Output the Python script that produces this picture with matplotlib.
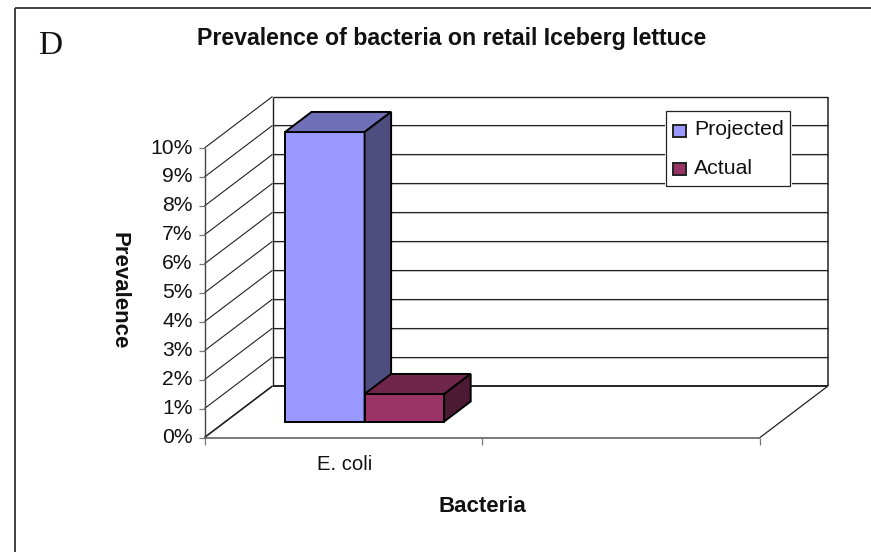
import numpy as np
import matplotlib
matplotlib.use('Agg')
import matplotlib.pyplot as plt
from matplotlib.patches import Polygon, Rectangle

plt.rcParams['font.family'] = ['Liberation Sans', 'DejaVu Sans']

# data
categories = ['E. coli', '', '']
series_names = ['Projected', 'Actual']
series_values = [10.0, 0.95]
tick_values = np.arange(0, 11)
tick_labels = ['%d%%' % v for v in tick_values]
series_colors = ['#9999ff', '#993366']
top_colors = ['#7070b8', '#70264b']
side_colors = ['#4d4d80', '#4d1a33']

W, H = 871, 552
fig = plt.figure(figsize=(W / 100, H / 100), dpi=100)
ax = fig.add_axes([0, 0, 1, 1])
ax.set_xlim(0, W)
ax.set_ylim(H, 0)
ax.axis('off')

# oblique projection of the 3d box
x0, y0 = 204.5, 437.5
unit_y = 28.95
cat_w = 277.75
dx, dy = 68.0, -51.5


def proj(cat, val, depth=0.0):
    return (x0 + cat * cat_w + depth * dx, y0 - val * unit_y + depth * dy)


def poly(pts, fc, lw=1.4):
    ax.add_patch(Polygon(pts, closed=True, fc=fc, ec='black', lw=lw, joinstyle='miter', zorder=3))


def line(a, b, color='#222222', lw=0.8):
    ax.plot([a[0], b[0]], [a[1], b[1]], color=color, lw=lw, solid_capstyle='butt', zorder=2)


# outer frame, only top and left are visible
ax.plot([15, 15], [552, 8], color='#333333', lw=1.3, solid_capstyle='butt')
ax.plot([15, 871], [8, 8], color='#333333', lw=1.3, solid_capstyle='butt')

n = len(categories)
top = tick_values[-1]

# walls
line(proj(0, top, 1), proj(n - 1, top, 1), lw=1.0)
line(proj(n - 1, 0, 1), proj(n - 1, top, 1), lw=1.1)
line(proj(0, 0, 1), proj(0, top, 1), lw=1.0)
line(proj(0, 0, 1), proj(n - 1, 0, 1), lw=1.3, color='#111111')
for v in tick_values[1:-1]:
    a, b = proj(0, v, 1), proj(n - 1, v, 1)
    ax.plot([a[0], b[0]], [a[1] + 1, b[1] + 1], color='#c8c8c8', lw=0.8, zorder=1.5)
    line(a, b, lw=0.8)
for v in tick_values:
    line(proj(0, v, 0), proj(0, v, 1), lw=0.8)
line(proj(0, 0, 0), proj(0, 0, 1), lw=1.1)
line(proj(0, 0, 0), proj(0, top, 0), color='#444444', lw=1.0)
line(proj(0, 0, 0), proj(n - 1, 0, 0), color='#555555', lw=1.1)
line(proj(n - 1, 0, 0), proj(n - 1, 0, 1), lw=0.9)

# ticks and labels
for v, lab in zip(tick_values, tick_labels):
    xt, yt = proj(0, v, 0)
    line((xt - 6, yt), (xt, yt), color='#777777', lw=0.9)
    ax.text(192.7, yt, lab, ha='right', va='center', fontsize=15.2, color='#111111')
for c in range(n):
    xt, yt = proj(c, 0, 0)
    line((xt, yt), (xt, yt + 7), color='#777777', lw=0.9)
ax.text(345, 464.5, categories[0], ha='center', va='center', fontsize=14.6, color='#111111')

# bars
bar_w = 0.2865
d0, d1 = 0.31, 0.70
start = 0.214
for i, (val, fc, tc, sc) in enumerate(zip(series_values, series_colors, top_colors, side_colors)):
    c0 = start + i * bar_w
    c1 = c0 + bar_w
    poly([proj(c0, 0, d0), proj(c1, 0, d0), proj(c1, val, d0), proj(c0, val, d0)], fc)
    poly([proj(c0, val, d0), proj(c1, val, d0), proj(c1, val, d1), proj(c0, val, d1)], tc)
    poly([proj(c1, 0, d0), proj(c1, 0, d1), proj(c1, val, d1), proj(c1, val, d0)], sc)

# legend
ax.add_patch(Rectangle((665, 110), 127, 78, fc='white', ec='none', zorder=5))
ax.add_patch(Rectangle((667, 112), 124, 75, fc='#aaaaaa', ec='none', zorder=5))
ax.add_patch(Rectangle((665.5, 110.5), 124.5, 75.5, fc='white', ec='#222222', lw=0.9, zorder=6))
for name, fc, yc in zip(series_names, series_colors, [130.8, 169]):
    ax.add_patch(Rectangle((673.2, yc - 6.2), 12.5, 12.4, fc=fc, ec='#222222', lw=1.4, zorder=7))
    ax.text(694, yc - 1, name, ha='left', va='center', fontsize=15.3, color='#111111', zorder=7)

# titles
ax.text(451.5, 39, 'Prevalence of bacteria on retail Iceberg lettuce', ha='center', va='center',
        fontsize=16.7, fontweight='bold', color='#111111')
ax.text(482, 507, 'Bacteria', ha='center', va='center', fontsize=16, fontweight='bold', color='#111111')
ax.text(118.5, 291, 'Prevalence', ha='center', va='center', rotation=-90, fontsize=16,
        fontweight='bold', color='#111111')
ax.text(50.5, 45.5, 'D', ha='center', va='center', fontsize=24, family='Liberation Serif', color='#111111')

fig.savefig('out.png', dpi=100)
